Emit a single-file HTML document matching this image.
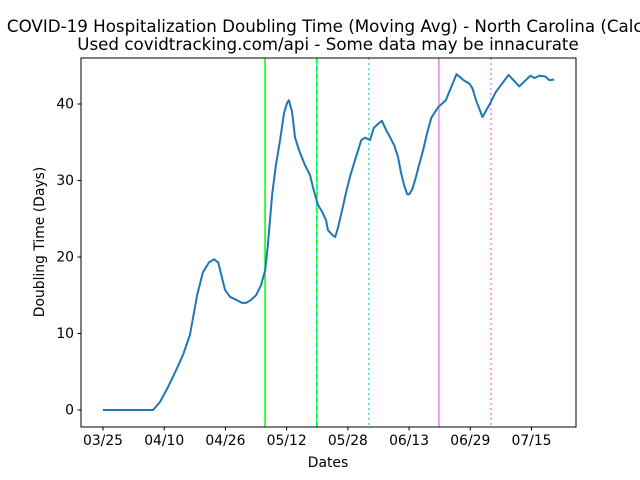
<!DOCTYPE html>
<html><head><meta charset="utf-8"><style>
body{margin:0;background:#fff}
svg{display:block;font-family:"DejaVu Sans","Liberation Sans",sans-serif}
</style></head><body>
<svg id="chart" width="640" height="480" viewBox="0 0 640 480">
<rect width="640" height="480" fill="#fff"/>
<g id="title" font-size="16.7" text-anchor="middle" fill="#000">
<text x="328" y="32">COVID-19 Hospitalization Doubling Time (Moving Avg) - North Carolina (Calc)</text>
<text x="328" y="50">Used covidtracking.com/api - Some data may be innacurate</text>
</g>
<g id="vlines"></g>
<g id="plot"></g>
<rect x="81" y="58" width="495" height="369" fill="none" stroke="#000" stroke-width="1"/>
<g id="xticks" font-size="13.9" text-anchor="middle"></g>
<g id="yticks" font-size="13.9" text-anchor="end"></g>
<text x="328" y="467" font-size="13.9" text-anchor="middle">Dates</text>
<text transform="translate(44,242) rotate(-90)" font-size="13.9" text-anchor="middle">Doubling Time (Days)</text>
</svg>
<script>
const days=[0,13.1,14.9,17.0,19.1,20.9,22.7,24.6,26.1,27.7,29.0,30.1,31.1,31.9,33.2,34.8,36.3,37.4,38.7,40.0,41.3,42.4,43.1,44.2,45.2,46.3,47.3,48.1,48.6,49.4,50.2,51.2,52.8,54.1,55.2,56.2,57.3,58.3,58.8,59.9,60.7,61.4,62.5,63.5,64.6,65.9,66.7,67.5,68.5,69.8,70.8,71.9,72.9,74.0,75.0,76.1,77.1,77.9,78.7,79.5,80.0,80.8,81.6,82.6,83.7,84.7,85.8,86.6,87.6,89.6,92.4,94.3,95.9,96.6,97.5,99.2,101.0,102.7,104.5,106.0,108.8,111.7,112.8,114.1,115.6,116.7,117.9];
const values=[0,0,1.05,3.0,5.2,7.2,9.8,15.0,18.0,19.3,19.7,19.3,17.3,15.7,14.8,14.4,14.0,14.0,14.4,15.0,16.3,18.3,21.6,28.1,32.0,35.3,38.8,40.1,40.5,39.0,35.6,34.0,32.0,30.7,28.5,26.8,25.9,24.8,23.5,22.9,22.6,23.8,26.1,28.4,30.6,32.7,34.0,35.3,35.6,35.3,36.9,37.4,37.8,36.6,35.7,34.6,33.1,31.0,29.4,28.2,28.2,28.8,30.1,32.0,34.0,36.2,38.2,38.8,39.6,40.5,43.9,43.1,42.6,42.0,40.5,38.3,39.9,41.6,42.8,43.8,42.3,43.7,43.4,43.7,43.6,43.1,43.2];
const xTickDays=[0,16,32,48,64,80,96,112];
const xTickLabels=["03/25","04/10","04/26","05/12","05/28","06/13","06/29","07/15"];
const yTickValues=[0,10,20,30,40];
const markerDays=[42.35,55.9,69.5,87.8,101.4];
const markerStyles=[["#00ff00",null],["#00ffff","lime-dash"],["#40e0d0","2,3"],["#ee82ee",null],["#ee82ee","2,3"]];
const X=d=>103+d*3.826, Y=v=>410-v*7.65;
const NS="http://www.w3.org/2000/svg";
function mk(t,a,p){const e=document.createElementNS(NS,t);for(const k in a)e.setAttribute(k,a[k]);p.appendChild(e);return e;}
const vl=document.getElementById('vlines');
markerDays.forEach((d,i)=>{
 const [c,s]=markerStyles[i];
 const l=mk('line',{x1:X(d),x2:X(d),y1:58,y2:427,stroke:c,'stroke-width':1.5},vl);
 
 
 if(s==='lime-dash'){
  const l2=mk('line',{x1:X(d),x2:X(d),y1:58,y2:427,stroke:'#00ff00','stroke-width':1.5,'stroke-dasharray':'5.5,2.4'},vl);
  
  
 } else if(s) l.setAttribute('stroke-dasharray',s);
});
const pl=mk('polyline',{points:days.map((d,i)=>X(d).toFixed(1)+','+Y(values[i]).toFixed(1)).join(' '),fill:'none',stroke:'#1f77b4','stroke-width':2,'stroke-linejoin':'round'},document.getElementById('plot'));


const xt=document.getElementById('xticks');
xTickDays.forEach((d,i)=>{
 const t=mk('line',{x1:X(d),x2:X(d),y1:427,y2:430.5,stroke:'#000'},xt);
 
 
 const tx=mk('text',{x:X(d),y:445},xt);tx.textContent=xTickLabels[i];
 
 
});
const yt=document.getElementById('yticks');
yTickValues.forEach(v=>{
 const t=mk('line',{x1:77.5,x2:81,y1:Y(v),y2:Y(v),stroke:'#000'},yt);
 
 
 const tx=mk('text',{x:74,y:Y(v)+4.5},yt);tx.textContent=v;
 
 
});
</script>
</body></html>
